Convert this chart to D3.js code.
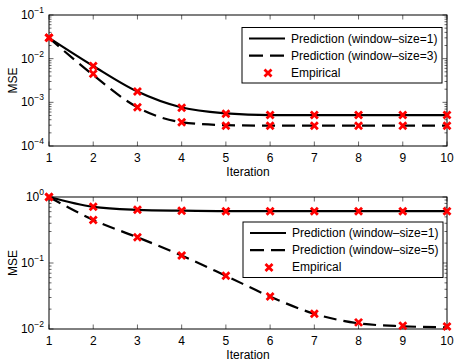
<!DOCTYPE html>
<html>
<head>
<meta charset="utf-8">
<script src="https://cdn.jsdelivr.net/npm/d3@7"></script>
<style>
body { margin: 0; background: #fff; }
text { font-family: "Liberation Sans", Arial, sans-serif; }
</style>
</head>
<body>
<svg width="463" height="364"></svg>
<script>
var iterations = [1, 2, 3, 4, 5, 6, 7, 8, 9, 10];

// top panel
var topWs1 = [0.030, 0.0068, 0.00176, 0.00076, 0.00056, 0.00051, 0.00051, 0.00051, 0.00051, 0.00051];
var topWs3 = [0.030, 0.0042, 0.00077, 0.00035, 0.00030, 0.000293, 0.000293, 0.000293, 0.000293, 0.000293];
var topEmp1 = [0.030, 0.0068, 0.00176, 0.00075, 0.00055, 0.00051, 0.00051, 0.00051, 0.00051, 0.00051];
var topEmp3 = [0.030, 0.0045, 0.00077, 0.00035, 0.00029, 0.00029, 0.00029, 0.00029, 0.00029, 0.00029];
var topTicks = [1e-4, 1e-3, 1e-2, 1e-1];
var topLabels = ["Prediction (window\u2013size=1)", "Prediction (window\u2013size=3)", "Empirical"];

// bottom panel
var botWs1 = [1.0, 0.71, 0.64, 0.62, 0.61, 0.61, 0.61, 0.61, 0.61, 0.61];
var botWs5 = [1.0, 0.45, 0.245, 0.13, 0.064, 0.031, 0.017, 0.0122, 0.0110, 0.0106];
var botEmp1 = [1.0, 0.71, 0.64, 0.62, 0.61, 0.61, 0.61, 0.61, 0.61, 0.61];
var botEmp5 = [1.0, 0.45, 0.245, 0.13, 0.064, 0.031, 0.017, 0.0126, 0.0112, 0.0109];
var botTicks = [1e-2, 1e-1, 1e0];
var botLabels = ["Prediction (window\u2013size=1)", "Prediction (window\u2013size=5)", "Empirical"];

var svg = d3.select("svg");

var sup = {"-4": "\u22124", "-3": "\u22123", "-2": "\u22122", "-1": "\u22121", "0": "0"};
var fs = 12;

function drawPanel(cfg) {
    var left = 49, right = 447;
    var x = d3.scaleLinear().domain([1, 10]).range([left, right]);
    var y = d3.scaleLog().domain(cfg.domain).range([cfg.bottom, cfg.top]);
    var g = svg.append("g");

    // minor log ticks
    var minors = [];
    var lo = Math.round(Math.log10(cfg.domain[0])), hi = Math.round(Math.log10(cfg.domain[1]));
    for (var e = lo; e < hi; e++) {
        for (var m = 2; m <= 9; m++) minors.push(m * Math.pow(10, e));
    }
    minors.forEach(function(v) {
        g.append("line").attr("x1", left).attr("x2", left + 2.5)
            .attr("y1", y(v)).attr("y2", y(v)).attr("stroke", "#000").attr("stroke-width", 0.6);
        g.append("line").attr("x1", right).attr("x2", right - 2.5)
            .attr("y1", y(v)).attr("y2", y(v)).attr("stroke", "#000").attr("stroke-width", 0.6);
    });
    cfg.ticks.forEach(function(v) {
        g.append("line").attr("x1", left).attr("x2", left + 4.5)
            .attr("y1", y(v)).attr("y2", y(v)).attr("stroke", "#000").attr("stroke-width", 0.6);
        g.append("line").attr("x1", right).attr("x2", right - 4.5)
            .attr("y1", y(v)).attr("y2", y(v)).attr("stroke", "#000").attr("stroke-width", 0.6);
        var t = g.append("text").attr("x", left - 5).attr("y", y(v) + 4)
            .attr("text-anchor", "end").attr("font-size", fs);
        t.append("tspan").text("10");
        t.append("tspan").attr("dy", -6).attr("font-size", 8.5)
            .text(sup[String(Math.round(Math.log10(v)))]);
    });
    iterations.forEach(function(i) {
        g.append("line").attr("x1", x(i)).attr("x2", x(i))
            .attr("y1", cfg.bottom).attr("y2", cfg.bottom - 4.5).attr("stroke", "#000").attr("stroke-width", 0.6);
        g.append("line").attr("x1", x(i)).attr("x2", x(i))
            .attr("y1", cfg.top).attr("y2", cfg.top + 4.5).attr("stroke", "#000").attr("stroke-width", 0.6);
        g.append("text").attr("x", x(i)).attr("y", cfg.bottom + 16)
            .attr("text-anchor", "middle").attr("font-size", fs).text(i);
    });

    g.append("rect").attr("x", left).attr("y", cfg.top)
        .attr("width", right - left).attr("height", cfg.bottom - cfg.top)
        .attr("fill", "none").attr("stroke", "#000").attr("stroke-width", 1);

    g.append("text").attr("x", (left + right) / 2).attr("y", cfg.bottom + 30)
        .attr("text-anchor", "middle").attr("font-size", fs).text("Iteration");
    g.append("text").attr("transform", "translate(17," + ((cfg.top + cfg.bottom) / 2) + ") rotate(-90)")
        .attr("text-anchor", "middle").attr("font-size", fs).text("MSE");

    var line = d3.line()
        .x(function(d, i) { return x(iterations[i]); })
        .y(function(d) { return y(d); })
        .curve(d3.curveMonotoneX);

    g.append("path").attr("d", line(cfg.s1)).attr("fill", "none")
        .attr("stroke", "#000").attr("stroke-width", 2.2);
    g.append("path").attr("d", line(cfg.s2)).attr("fill", "none")
        .attr("stroke", "#000").attr("stroke-width", 2.2).attr("stroke-dasharray", "13,7");

    var emp = cfg.e1.concat(cfg.e2).map(function(v, k) {
        return {x: iterations[k % 10], y: v};
    });
    var cross = "M-3.5,-3.5L3.5,3.5M-3.5,3.5L3.5,-3.5";
    g.selectAll(".mk").data(emp).enter().append("path")
        .attr("d", cross)
        .attr("transform", function(d) { return "translate(" + x(d.x) + "," + y(d.y) + ")"; })
        .attr("stroke", "#ff0000").attr("stroke-width", 2.8).attr("fill", "none");

    // legend
    var lg = g.append("g");
    lg.append("rect").attr("x", cfg.lx).attr("y", cfg.ly)
        .attr("width", 200).attr("height", 55.5)
        .attr("fill", "#fff").attr("stroke", "#000").attr("stroke-width", 1);
    cfg.labels.forEach(function(lab, k) {
        var yy = cfg.ly + 11 + k * 17.2;
        if (k < 2) {
            lg.append("line").attr("x1", cfg.lx + 7).attr("x2", cfg.lx + 43)
                .attr("y1", yy).attr("y2", yy).attr("stroke", "#000").attr("stroke-width", 2.2)
                .attr("stroke-dasharray", k === 1 ? "14,7" : null);
        } else {
            lg.append("path").attr("d", cross)
                .attr("transform", "translate(" + (cfg.lx + 26) + "," + yy + ")")
                .attr("stroke", "#ff0000").attr("stroke-width", 2.8).attr("fill", "none");
        }
        lg.append("text").attr("x", cfg.lx + 49).attr("y", yy + 4)
            .attr("font-size", fs).text(lab);
    });
}

drawPanel({top: 15, bottom: 146, domain: [1e-4, 1e-1], ticks: topTicks,
    s1: topWs1, s2: topWs3, e1: topEmp1, e2: topEmp3, labels: topLabels, lx: 242, ly: 27.5});
drawPanel({top: 197, bottom: 329, domain: [1e-2, 1], ticks: botTicks,
    s1: botWs1, s2: botWs5, e1: botEmp1, e2: botEmp5, labels: botLabels, lx: 243, ly: 222});
</script>
</body>
</html>
